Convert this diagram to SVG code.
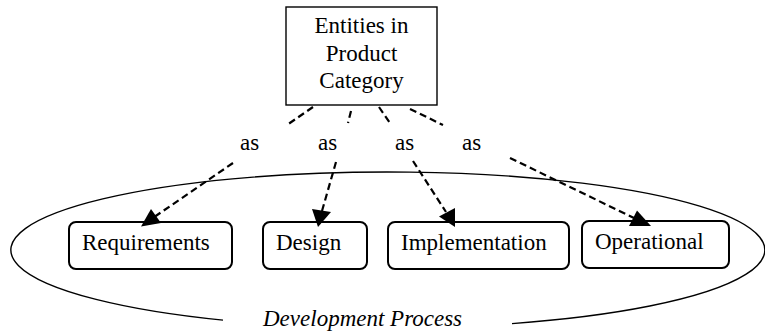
<svg xmlns="http://www.w3.org/2000/svg" width="765" height="335" viewBox="0 0 765 335">
<style>
text{font-family:"Liberation Serif","Times New Roman",serif;font-size:23px;fill:#000}
.box{fill:#fff;stroke:#000;stroke-width:2}
.top{fill:#fff;stroke:#000;stroke-width:1.4}
.dash{fill:none;stroke:#000;stroke-width:2.2;stroke-dasharray:7 4}
.ah{fill:#000;stroke:none}
</style>
<rect width="765" height="335" fill="#fff"/>
<g id="process">
<path d="M223,320.1 A377,78 0 1 1 512,323.6" fill="none" stroke="#000" stroke-width="1.4"/>
<text x="263" y="326" font-style="italic">Development Process</text>
</g>
<g id="entities">
<rect class="top" x="286" y="7" width="151" height="98"/>
<text x="361.5" y="33" text-anchor="middle">Entities in</text>
<text x="361.5" y="61" text-anchor="middle">Product</text>
<text x="361.5" y="88" text-anchor="middle">Category</text>
</g>
<g id="requirements">
<rect class="box" x="69" y="222" width="163" height="47" rx="7"/>
<text x="82" y="250">Requirements</text>
</g>
<g id="design">
<rect class="box" x="263" y="222" width="104" height="47" rx="7"/>
<text x="276" y="250">Design</text>
</g>
<g id="implementation">
<rect class="box" x="388" y="222" width="181" height="47" rx="7"/>
<text x="401" y="250">Implementation</text>
</g>
<g id="operational">
<rect class="box" x="582" y="221" width="147" height="47" rx="7"/>
<text x="595" y="249">Operational</text>
</g>
<g id="connectors">
<line class="dash" x1="313" y1="107" x2="287" y2="125"/>
<line class="dash" x1="233" y1="163" x2="155" y2="216.5"/>
<polygon class="ah" points="141,226.5 151,209 161,223"/>
<text x="240" y="150">as</text>
<line class="dash" x1="351" y1="111" x2="348" y2="123"/>
<line class="dash" x1="336" y1="162" x2="322" y2="211"/>
<polygon class="ah" points="318,227 312,209 331,212"/>
<text x="318" y="150">as</text>
<line class="dash" x1="379" y1="107" x2="390" y2="123"/>
<line class="dash" x1="413" y1="161" x2="446" y2="212"/>
<polygon class="ah" points="455,227 439,216.5 455,208"/>
<text x="395" y="150">as</text>
<line class="dash" x1="410" y1="109" x2="443" y2="125"/>
<line class="dash" x1="510" y1="158" x2="634" y2="218"/>
<polygon class="ah" points="651,226 637,210.5 629,226"/>
<text x="462" y="150">as</text>
</g>
</svg>
